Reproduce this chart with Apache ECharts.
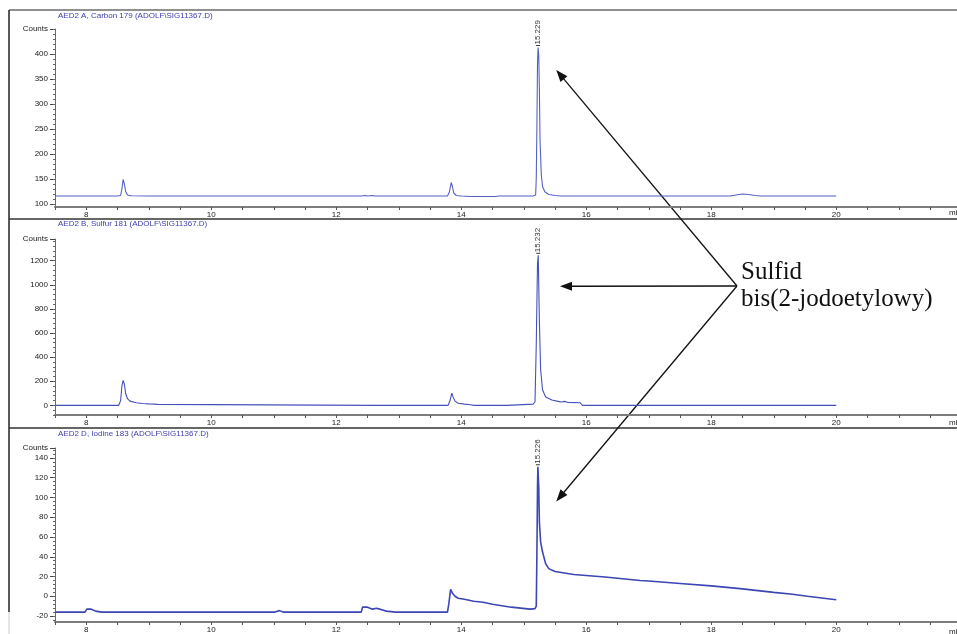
<!DOCTYPE html>
<html><head><meta charset="utf-8">
<script src="https://cdn.jsdelivr.net/npm/echarts@6/dist/echarts.min.js"></script>
<style>html,body{margin:0;padding:0;background:#fff}#c{width:957px;height:634px}</style>
</head><body><div id="c"></div>
<script>
// ---- data (time in min, counts) ----
const panelTitles = [
  'AED2 A, Carbon 179 (ADOLF\\SIG11367.D)',
  'AED2 B, Sulfur 181 (ADOLF\\SIG11367.D)',
  'AED2 D, Iodine 183 (ADOLF\\SIG11367.D)'
];
const peakLabels = ['15.229', '15.232', '15.226'];
const peakTimes = [15.229, 15.232, 15.226];
const peakValues = [413, 1245, 131];

const carbonData = [
  [7.5,116],[8.5,116],[8.55,117],[8.57,130],[8.59,149],[8.61,140],[8.63,125],[8.66,118],[8.72,116.5],[9.0,116],
  [12.4,116],[12.43,118],[12.46,117],[12.5,116],[12.58,117],[12.62,116],
  [13.78,116],[13.81,124],[13.84,143],[13.86,134],[13.88,122],[13.92,117],[14.0,116],[14.15,115],[14.55,115],[14.6,116],
  [15.15,116],[15.19,118],[15.2,150],[15.21,250],[15.22,380],[15.229,413],[15.24,398],[15.25,330],[15.26,230],[15.28,160],
  [15.3,135],[15.34,124],[15.4,119],[15.5,117],[15.6,116],
  [18.3,116],[18.4,118],[18.5,120],[18.6,119],[18.7,117],[18.8,116],[20.0,116]
];
const sulfurData = [
  [7.5,0],[8.52,0],[8.55,40],[8.57,160],[8.59,207],[8.61,175],[8.63,100],[8.66,55],[8.7,35],[8.8,22],[8.9,15],[9.0,12],[9.1,10],[9.14,8],[9.16,0],
  [12.63,0],[12.65,7],[12.67,0],
  [13.79,0],[13.82,40],[13.85,102],[13.87,70],[13.9,35],[13.95,18],[14.05,10],[14.15,5],[14.2,0],
  [14.74,0],[14.76,8],[15.15,10],[15.18,30],[15.2,500],[15.22,1180],[15.232,1245],[15.25,700],[15.27,300],[15.3,130],
  [15.35,70],[15.45,45],[15.55,33],[15.6,28],[15.65,33],[15.7,25],[15.9,22],[15.94,0],[20.0,0]
];
const iodineData = [
  [7.5,-16],[7.98,-16],[8.01,-13],[8.04,-12],[8.08,-13],[8.15,-15],[8.25,-16],
  [11.02,-16],[11.05,-14],[11.09,-14.5],[11.15,-16],
  [12.4,-16],[12.42,-11],[12.44,-9],[12.5,-11],[12.58,-13],[12.64,-12],[12.7,-13],[12.8,-15],[12.95,-16],
  [13.78,-16],[13.8,-8],[13.83,7],[13.86,3],[13.9,0],[13.95,-2],[14.05,-3],[14.2,-5],[14.35,-6],[14.5,-8],[14.65,-9.5],[14.8,-11],[14.95,-12],[15.1,-13],[15.18,-12.5],
  [15.2,-10],[15.21,40],[15.22,110],[15.226,131],[15.24,110],[15.25,75],[15.27,55],[15.3,45],[15.35,33],[15.4,28],[15.5,25],
  [15.6,24],[15.8,22],[16.0,21],[16.3,19.5],[16.86,16],[17.0,15.5],[17.5,13],[18.0,10.5],[18.5,7.5],[19.0,4],[19.3,2],[19.54,0],[19.8,-2],[20.0,-3.5]
];

const xMin = 7.5, xMax = 21.932;
const carbonTicks = [100,150,200,250,300,350,400,450];
const sulfurTicks = [0,200,400,600,800,1000,1200,1380];
const iodineTicks = [-20,0,20,40,60,80,100,120,140,150];
const yRanges = [[94,450],[-80,1380],[-26,150]];
const minorStep = [10,40,4];
const countsTop = [450,1380,150];

// ---- chart ----
const chart = echarts.init(document.getElementById('c'), null, {renderer:'canvas'});
const font = 'Liberation Sans, Arial, sans-serif';
const grids = [
  {left:55, width:902, top:29, height:178},
  {left:55, width:902, top:239, height:176},
  {left:55, width:902, top:448, height:176}
];
const tickSets = [carbonTicks, sulfurTicks, iodineTicks];
const datas = [carbonData, sulfurData, iodineData];
const lineColors = ['#5560c6','#4650bb','#3c46b4'];
const lineWidths = [1.1,1.1,1.6];

const xAxes = [], yAxes = [], series = [], titles = [];
for (let i = 0; i < 3; i++) {
  xAxes.push({
    type:'value', gridIndex:i, min:xMin, max:xMax, interval:0.5,
    splitLine:{show:false},
    axisLine:{onZero:false, lineStyle:{color:'#7d7d7d', width:2}},
    axisTick:{length:3, lineStyle:{color:'#555', width:1}},
    axisLabel:{fontSize:8, color:'#222', fontFamily:font, margin:4,
      showMaxLabel:false,
      formatter: v => (Math.abs(v % 2) < 1e-9 ? String(v) : '')}
  });
  const minor = [];
  for (let v = Math.ceil(yRanges[i][0] / minorStep[i]) * minorStep[i]; v <= yRanges[i][1]; v += minorStep[i]) minor.push(v);
  yAxes.push({
    type:'value', gridIndex:i, position:'left', min:yRanges[i][0], max:yRanges[i][1],
    splitLine:{show:false},
    axisLine:{onZero:false, lineStyle:{color:'#6a6a6a', width:1}},
    axisTick:{customValues:tickSets[i], length:5, lineStyle:{color:'#444'}},
    axisLabel:{customValues:tickSets[i], fontSize:8, color:'#222', fontFamily:font, margin:7,
      formatter: v => (v === countsTop[i] ? 'Counts' : String(v))}
  });
  yAxes.push({
    type:'value', gridIndex:i, position:'left', min:yRanges[i][0], max:yRanges[i][1],
    splitLine:{show:false},
    axisLine:{show:false},
    axisTick:{customValues:minor, length:2, lineStyle:{color:'#666'}},
    axisLabel:{show:false}
  });
  series.push({
    type:'line', xAxisIndex:i, yAxisIndex:i*2, data:datas[i], showSymbol:false, symbol:'none',
    lineStyle:{color:lineColors[i], width:lineWidths[i]}, silent:true
  });
  titles.push({text:panelTitles[i], left:58, top:[12,220,430][i], padding:0,
    textStyle:{fontSize:8, color:'#4040b0', fontWeight:'normal', fontFamily:font}});
}

chart.setOption({
  animation:false,
  backgroundColor:'#fff',
  title:titles, grid:grids, xAxis:xAxes, yAxis:yAxes, series:series
});

// ---- annotation graphics ----
const g = [];
g.push({type:'line', shape:{x1:9,y1:10,x2:957,y2:10}, style:{stroke:'#222', lineWidth:1.2}, silent:true});
g.push({type:'line', shape:{x1:9,y1:10,x2:9,y2:612}, style:{stroke:'#222', lineWidth:1.5}, silent:true});
g.push({type:'line', shape:{x1:9,y1:612,x2:9,y2:634}, style:{stroke:'#ccc', lineWidth:1}, silent:true});
g.push({type:'line', shape:{x1:9,y1:219,x2:957,y2:219}, style:{stroke:'#333', lineWidth:1.6}, silent:true});
g.push({type:'line', shape:{x1:9,y1:428,x2:957,y2:428}, style:{stroke:'#333', lineWidth:1.6}, silent:true});
[213,423,632].forEach(y => g.push({type:'text', x:949, y:y, silent:true,
  style:{text:'min', fontSize:8, fill:'#222', font:'8px ' + font, verticalAlign:'middle', align:'left'}}));
for (let i = 0; i < 3; i++) {
  const p = chart.convertToPixel({xAxisIndex:i, yAxisIndex:i*2}, [peakTimes[i], peakValues[i]]);
  g.push({type:'line', shape:{x1:p[0]-2,y1:p[1]-2,x2:p[0]+2,y2:p[1]-2}, style:{stroke:'#333', lineWidth:1}, silent:true});
  g.push({type:'text', x:p[0], y:p[1]-3, rotation:Math.PI/2, silent:true,
    style:{text:peakLabels[i], font:'8px ' + font, fill:'#333', align:'left', verticalAlign:'middle'}});
}
const origin = [737, 286];
const arrowTargets = [[15.52, 368, 0], [15.58, 988, 1], [15.52, 96, 2]];
arrowTargets.forEach(t => {
  const p = chart.convertToPixel({xAxisIndex:t[2], yAxisIndex:t[2]*2}, [t[0], t[1]]);
  const dx = p[0] - origin[0], dy = p[1] - origin[1];
  const len = Math.sqrt(dx*dx + dy*dy), ux = dx/len, uy = dy/len;
  const hl = 12, hw = 4.5;
  const bx = p[0] - ux*hl, by = p[1] - uy*hl;
  g.push({type:'line', shape:{x1:origin[0], y1:origin[1], x2:bx+ux*2, y2:by+uy*2}, style:{stroke:'#111', lineWidth:1.3}, silent:true});
  g.push({type:'polygon', shape:{points:[[p[0],p[1]],[bx - uy*hw, by + ux*hw],[bx + uy*hw, by - ux*hw]]}, style:{fill:'#111'}, silent:true});
});
g.push({type:'text', x:741, y:272, silent:true,
  style:{text:'Sulfid', font:'25px "Liberation Serif", "DejaVu Serif", serif', fill:'#111', verticalAlign:'middle', align:'left'}});
g.push({type:'text', x:741, y:299, silent:true,
  style:{text:'bis(2-jodoetylowy)', font:'25px "Liberation Serif", "DejaVu Serif", serif', fill:'#111', verticalAlign:'middle', align:'left'}});
chart.setOption({graphic:{elements:g}});
</script></body></html>
